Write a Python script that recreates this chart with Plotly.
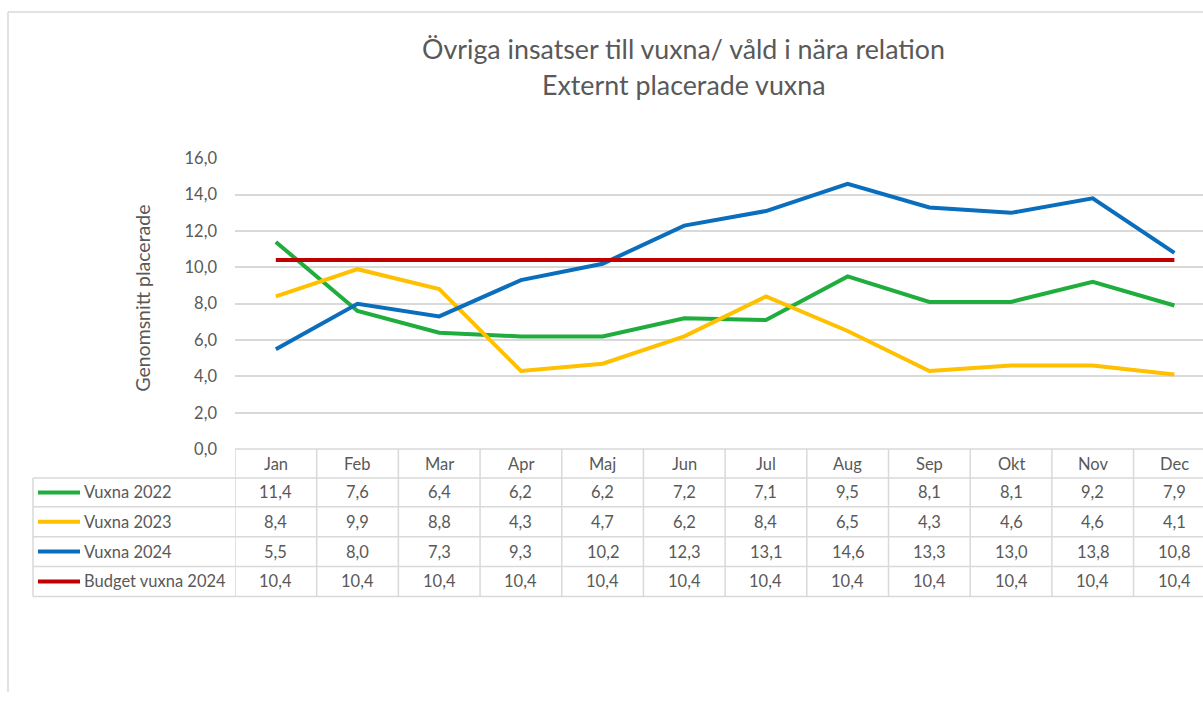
import plotly.graph_objects as go

months = ["Jan", "Feb", "Mar", "Apr", "Maj", "Jun", "Jul", "Aug", "Sep", "Okt", "Nov", "Dec"]
vuxna_2022 = [11.4, 7.6, 6.4, 6.2, 6.2, 7.2, 7.1, 9.5, 8.1, 8.1, 9.2, 7.9]
vuxna_2023 = [8.4, 9.9, 8.8, 4.3, 4.7, 6.2, 8.4, 6.5, 4.3, 4.6, 4.6, 4.1]
vuxna_2024 = [5.5, 8.0, 7.3, 9.3, 10.2, 12.3, 13.1, 14.6, 13.3, 13.0, 13.8, 10.8]
budget_2024 = [10.4] * 12

series = [
    ("Vuxna 2022", vuxna_2022, "#1fae3e"),
    ("Vuxna 2023", vuxna_2023, "#ffc000"),
    ("Vuxna 2024", vuxna_2024, "#0a6ebd"),
    ("Budget vuxna 2024", budget_2024, "#c00000"),
]

W = 1203
# visible figure area in the photo runs from about row 8 to row 693
Y0, HV = 8, 685
FONT = "Lato"
GREY = "#595959"
LINE = "#d9d9d9"


def px(x):
    return x / W


def py(y):
    return min(1, max(0, 1 - (y - Y0) / HV))


fig = go.Figure()
for name, vals, color in series:
    fig.add_trace(go.Scatter(
        x=list(range(len(months))), y=vals, name=name, mode="lines",
        line=dict(color=color, width=4), hoverinfo="x+y+name"
    ))

shapes = []
annotations = []

# outer chart border
shapes.append(dict(type="line", xref="paper", yref="paper", x0=px(8), x1=px(8), y0=py(10), y1=0,
                   line=dict(color=LINE, width=1.5)))
shapes.append(dict(type="line", xref="paper", yref="paper", x0=px(8), x1=1, y0=py(10), y1=py(10),
                   line=dict(color=LINE, width=1.5)))

# data table
row_edges = [449, 478, 507, 537, 567, 597]
for i, y in enumerate(row_edges):
    shapes.append(dict(type="line", xref="paper", yref="paper",
                       x0=px(235 if i == 0 else 33), x1=1, y0=py(y), y1=py(y),
                       line=dict(color=LINE, width=1.5)))
shapes.append(dict(type="line", xref="paper", yref="paper", x0=px(33), x1=px(33),
                   y0=py(478), y1=py(597), line=dict(color=LINE, width=1.5)))
for i in range(len(months) + 1):
    shapes.append(dict(type="line", xref="x", yref="paper", x0=i - 0.5, x1=i - 0.5,
                       y0=py(449), y1=py(597), line=dict(color=LINE, width=1.5)))

tfont = dict(family=FONT, size=16.5, color=GREY)
for i, m in enumerate(months):
    annotations.append(dict(x=i, y=py(463.5), xref="x", yref="paper", text=m,
                            xanchor="center", yanchor="middle", showarrow=False, font=tfont))
row_mid = [492.5, 522, 552, 582]
for (name, vals, color), ym in zip(series, row_mid):
    shapes.append(dict(type="line", xref="paper", yref="paper", x0=px(38), x1=px(80),
                       y0=py(ym), y1=py(ym), line=dict(color=color, width=4)))
    annotations.append(dict(x=px(82), y=py(ym), xref="paper", yref="paper", text=name,
                            xanchor="left", yanchor="middle", showarrow=False, font=tfont))
    for i, v in enumerate(vals):
        annotations.append(dict(x=i, y=py(ym), xref="x", yref="paper",
                                text=f"{v:.1f}".replace(".", ","),
                                xanchor="center", yanchor="middle",
                                showarrow=False, font=tfont))

# title
annotations.append(dict(x=px(683), y=py(47), xref="paper", yref="paper",
                        text="Övriga insatser till vuxna/ våld i nära relation",
                        xanchor="center", yanchor="middle",
                        showarrow=False, font=dict(family=FONT, size=26.8, color=GREY)))
annotations.append(dict(x=px(683), y=py(83), xref="paper", yref="paper",
                        text="Externt placerade vuxna",
                        xanchor="center", yanchor="middle",
                        showarrow=False, font=dict(family=FONT, size=26.8, color=GREY)))
# y axis title
annotations.append(dict(x=px(143), y=py(298), xref="paper", yref="paper",
                        text="Genomsnitt placerade", textangle=-90,
                        xanchor="center", yanchor="middle",
                        showarrow=False, font=dict(family=FONT, size=19.5, color=GREY)))

fig.update_layout(
    autosize=True,
    margin=dict(l=0, r=0, t=0, b=0),
    paper_bgcolor="white", plot_bgcolor="white",
    showlegend=False,
    font=dict(family=FONT, color=GREY),
    xaxis=dict(domain=[px(235), 1], range=[-0.5, 11.35], showticklabels=False,
               showgrid=False, zeroline=False, fixedrange=True),
    yaxis=dict(domain=[py(449), py(157)], range=[0, 16], dtick=2, tickformat=".1f",
               gridcolor=LINE, gridwidth=1.5, zeroline=False,
               ticks="", ticklabelstandoff=17, tickfont=dict(family=FONT, size=16.5, color=GREY),
               fixedrange=True),
    separators=",.",
    shapes=shapes,
    annotations=annotations,
)

fig.write_html(
    "out.html",
    default_width="100vw",
    default_height="100vh",
    config={"displayModeBar": False, "responsive": True},
    post_script="document.documentElement.style.margin='0';document.body.style.margin='0';"
                "document.body.style.overflow='hidden';window.dispatchEvent(new Event('resize'));",
)
